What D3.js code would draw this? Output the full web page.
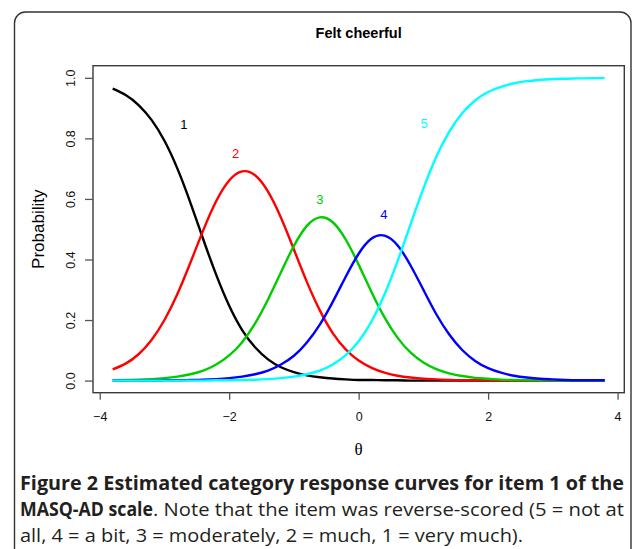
<!DOCTYPE html>
<html>
<head>
<meta charset="utf-8">
<script src="https://cdn.jsdelivr.net/npm/d3@7"></script>
<style>
  body { margin: 0; background: #fff; }
</style>
</head>
<body>
<div class="usable"></div>
<script>
// theta grid and category probabilities
const theta = [-3.8, -3.6, -3.4, -3.2, -3.0, -2.8, -2.6, -2.4, -2.2, -2.0,
               -1.8, -1.6, -1.4, -1.2, -1.0, -0.8, -0.6, -0.4, -0.2, 0.0,
                0.2,  0.4,  0.6,  0.8,  1.0,  1.2,  1.4,  1.6,  1.8, 2.0,
                2.2,  2.4,  2.6,  2.8,  3.0,  3.2,  3.4,  3.6,  3.8];

const cat1 = [0.964, 0.943, 0.910, 0.861, 0.792, 0.700, 0.588, 0.466, 0.349, 0.247,
              0.167, 0.110, 0.070, 0.044, 0.028, 0.017, 0.011, 0.007, 0.004, 0.002,
              0.002, 0.001, 0.001, 0, 0, 0, 0, 0, 0, 0,
              0, 0, 0, 0, 0, 0, 0, 0, 0];
const cat2 = [0.037, 0.056, 0.087, 0.134, 0.200, 0.286, 0.389, 0.497, 0.593, 0.661,
              0.691, 0.678, 0.624, 0.538, 0.433, 0.326, 0.232, 0.157, 0.103, 0.066,
              0.042, 0.026, 0.016, 0.010, 0.006, 0.004, 0.002, 0.001, 0.001, 0.001,
              0, 0, 0, 0, 0, 0, 0, 0, 0];
const cat3 = [0.001, 0.002, 0.003, 0.005, 0.008, 0.013, 0.021, 0.033, 0.053, 0.083,
              0.127, 0.189, 0.268, 0.358, 0.445, 0.511, 0.539, 0.523, 0.466, 0.383,
              0.292, 0.209, 0.142, 0.093, 0.060, 0.038, 0.024, 0.015, 0.009, 0.006,
              0.003, 0.002, 0.001, 0.001, 0.001, 0, 0, 0, 0];
const cat4 = [0, 0, 0, 0, 0.001, 0.001, 0.002, 0.003, 0.005, 0.008,
              0.013, 0.021, 0.033, 0.053, 0.082, 0.126, 0.185, 0.260, 0.343, 0.419,
              0.469, 0.479, 0.447, 0.381, 0.300, 0.219, 0.152, 0.101, 0.065, 0.041,
              0.026, 0.016, 0.010, 0.006, 0.004, 0.002, 0.001, 0.001, 0.001];
const cat5 = [0, 0, 0, 0, 0, 0, 0, 0, 0.001, 0.001,
              0.002, 0.003, 0.005, 0.008, 0.013, 0.021, 0.033, 0.053, 0.084, 0.130,
              0.196, 0.285, 0.394, 0.515, 0.634, 0.739, 0.822, 0.883, 0.925, 0.953,
              0.970, 0.982, 0.989, 0.993, 0.996, 0.997, 0.998, 0.999, 0.999];

const categories = ["1", "2", "3", "4", "5"];
const colors = ["#000000", "#ff0000", "#00cd00", "#0000ff", "#00ffff"];
// where the category numbers sit, in data units
const labelTheta = [-2.70, -1.90, -0.60, 0.39, 1.01];
const labelProb  = [0.832, 0.736, 0.584, 0.533, 0.835];

const xTicks = [-4, -2, 0, 2, 4];
const yTicks = [0, 0.2, 0.4, 0.6, 0.8, 1.0];

const captionLines = [
    "Figure 2 Estimated category response curves for item 1 of the",
    "MASQ-AD scale",
    ". Note that the item was reverse-scored (5 = not at",
    "all, 4 = a bit, 3 = moderately, 2 = much, 1 = very much)."
];

const W = 633, H = 549;
const margin = {top: 65.7, right: 8.7, bottom: 156.3, left: 93};

const svg = d3.select(".usable").append("svg")
    .attr("width", W)
    .attr("height", H)
    .style("display", "block");

// rounded frame round the figure
svg.append("rect")
    .attr("x", 14.5).attr("y", 12)
    .attr("width", 616.5).attr("height", 620)
    .attr("rx", 11)
    .attr("fill", "none")
    .attr("stroke", "#333")
    .attr("stroke-width", 1.4);

// R style axis range: data range widened by 4%
const xr = d3.extent(theta), xpad = 0.04 * (xr[1] - xr[0]);
const x = d3.scaleLinear()
    .domain([xr[0] - xpad, xr[1] + xpad])
    .range([margin.left, W - margin.right]);
const y = d3.scaleLinear()
    .domain([-0.04, 1.04])
    .range([H - margin.bottom, margin.top]);

const series = [cat1, cat2, cat3, cat4, cat5];

const line = d3.line()
    .x((d, i) => x(theta[i]))
    .y(d => y(d))
    .curve(d3.curveNatural);

svg.append("g").selectAll("path")
    .data(series)
    .join("path")
    .attr("d", d => line(d))
    .attr("fill", "none")
    .attr("stroke", (d, i) => colors[i])
    .attr("stroke-width", 2.4)
    .attr("stroke-linejoin", "round");

svg.append("g").selectAll("text")
    .data(categories)
    .join("text")
    .attr("x", (d, i) => x(labelTheta[i]))
    .attr("y", (d, i) => y(labelProb[i]))
    .attr("text-anchor", "middle")
    .attr("fill", (d, i) => colors[i])
    .style("font-family", "'Liberation Sans', Arial, sans-serif")
    .style("font-size", "13px")
    .text(d => d);

// plot box
svg.append("rect")
    .attr("x", margin.left).attr("y", margin.top)
    .attr("width", W - margin.right - margin.left)
    .attr("height", H - margin.bottom - margin.top)
    .attr("fill", "none")
    .attr("stroke", "#3a3a3a")
    .attr("stroke-width", 1.4);

const axisFont = "'Liberation Sans', Arial, sans-serif";

const gx = svg.append("g")
    .attr("transform", `translate(0,${H - margin.bottom})`)
    .call(d3.axisBottom(x).tickValues(xTicks).tickSize(7).tickPadding(12)
        .tickFormat(d => d < 0 ? "\u2212" + Math.abs(d) : String(d)));
gx.select(".domain").remove();
gx.selectAll("line").attr("stroke", "#555").attr("stroke-width", 1.3);
gx.selectAll("text").attr("fill", "#111")
    .style("font-family", axisFont).style("font-size", "12.5px");

const gy = svg.append("g")
    .attr("transform", `translate(${margin.left},0)`)
    .call(d3.axisLeft(y).tickValues(yTicks).tickSize(8)
        .tickFormat(d3.format(".1f")));
gy.select(".domain").remove();
gy.selectAll("line").attr("stroke", "#555").attr("stroke-width", 1.3);
gy.selectAll("text")
    .attr("x", null).attr("dy", null)
    .attr("transform", "translate(-18,0) rotate(-90)")
    .attr("text-anchor", "middle")
    .attr("fill", "#111")
    .style("font-family", axisFont).style("font-size", "12.5px");

// title and axis titles
svg.append("text")
    .attr("x", (margin.left + W - margin.right) / 2)
    .attr("y", 38.3)
    .attr("text-anchor", "middle")
    .style("font-family", axisFont)
    .style("font-weight", "bold")
    .style("font-size", "14.5px")
    .text("Felt cheerful");

svg.append("text")
    .attr("transform", `translate(44,${(margin.top + H - margin.bottom) / 2}) rotate(-90)`)
    .attr("text-anchor", "middle")
    .style("font-family", axisFont)
    .style("font-size", "17px")
    .text("Probability");

svg.append("text")
    .attr("x", (margin.left + W - margin.right) / 2)
    .attr("y", 455)
    .attr("text-anchor", "middle")
    .style("font-family", "'Liberation Serif', 'DejaVu Serif', serif")
    .style("font-size", "17px")
    .text("θ");

// caption
const capFont = "'Open Sans', 'Noto Sans', sans-serif";
const capSize = "19px";
const capLeft = 20, capRight = 624;

function capText(xPos, yPos, str, bold, len) {
    const t = svg.append("text")
        .attr("x", xPos).attr("y", yPos)
        .style("font-family", capFont).style("font-size", capSize)
        .style("font-weight", bold ? "bold" : "normal")
        .attr("fill", "#231f20")
        .text(str);
    if (len) t.attr("textLength", len).attr("lengthAdjust", "spacingAndGlyphs");
    return t;
}

capText(capLeft, 490, captionLines[0], true, capRight - capLeft);
const bw = capText(capLeft, 516, captionLines[1], true, 133).node().getBBox().width;
capText(capLeft + bw, 516, captionLines[2], false, capRight - capLeft - bw);
capText(capLeft, 542, captionLines[3], false, 503);
</script>
</body>
</html>
